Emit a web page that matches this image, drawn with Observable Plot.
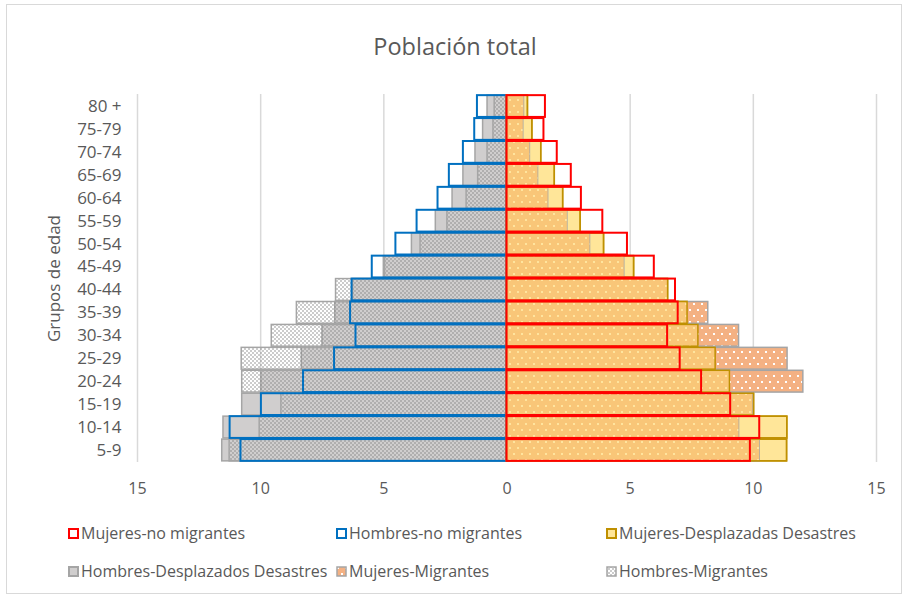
<!DOCTYPE html>
<html><head><meta charset="utf-8">
<script src="https://cdn.jsdelivr.net/npm/d3@7"></script>
<script src="https://cdn.jsdelivr.net/npm/@observablehq/plot@0.6"></script>
<style>
body{margin:0;background:#fff;font-family:"Open Sans",sans-serif;}
#frame{position:absolute;left:6px;top:4px;width:896px;height:590px;border:1px solid #D9D9D9;box-sizing:border-box}
#title{position:absolute;left:0;width:910px;top:31px;text-align:center;font-size:23.5px;color:#595959;line-height:30px}
#chart{position:absolute;left:0;top:80px}
.leg{position:absolute;font-size:16px;color:#595959;display:flex;align-items:center;white-space:nowrap;height:20px}
.leg svg{margin-right:2px}
</style></head><body>
<div id="frame"></div>
<div id="title">Población total</div>
<svg width="0" height="0" style="position:absolute">
<defs>
<pattern id="checker" width="4" height="4" patternUnits="userSpaceOnUse">
<rect x="0" y="0" width="2" height="2" fill="#7F7F7F" fill-opacity="0.4"/>
<rect x="2" y="2" width="2" height="2" fill="#7F7F7F" fill-opacity="0.4"/>
</pattern>
<pattern id="dotsSalmon" width="8" height="12" patternUnits="userSpaceOnUse">
<rect x="0" y="0" width="8" height="12" fill="#F4B183"/>
<rect x="1" y="1" width="2" height="2" fill="#FFFFFF"/>
<rect x="5" y="7" width="2" height="2" fill="#FFFFFF"/>
</pattern>
<pattern id="dotsOrange" width="8" height="12" patternUnits="userSpaceOnUse">
<rect x="0" y="0" width="8" height="12" fill="#F9C678"/>
<rect x="1" y="1" width="2" height="2" fill="#FFE49E"/>
<rect x="5" y="7" width="2" height="2" fill="#FFE49E"/>
</pattern>
</defs>
</svg>
<div id="chart"></div>
<div id="legend"></div>
<script>
// Age groups (bottom to top)
const ageGroups = ["5-9","10-14","15-19","20-24","25-29","30-34","35-39","40-44","45-49","50-54","55-59","60-64","65-69","70-74","75-79","80 +"];
// Men (%), plotted to the left
const hombresNoMigrantes = [10.80,11.24,9.97,8.26,7.00,6.13,6.35,6.29,5.47,4.51,3.65,2.80,2.34,1.77,1.31,1.20];
const hombresDesplazados = [11.56,11.51,10.75,9.97,8.33,7.49,6.97,6.25,5.00,3.86,2.89,2.21,1.77,1.28,0.97,0.79];
const hombresMigrantes   = [11.26,10.04,9.16,10.75,10.77,9.55,8.53,6.94,4.95,3.51,2.42,1.64,1.17,0.79,0.55,0.50];
// Women (%), plotted to the right
const mujeresNoMigrantes  = [9.88,10.26,9.08,7.90,7.03,6.52,6.95,6.84,5.98,4.89,3.89,3.02,2.61,2.04,1.50,1.56];
const mujeresDesplazadas  = [11.37,11.38,10.03,9.05,8.47,7.77,7.33,6.54,5.16,3.94,2.99,2.28,1.94,1.39,1.03,0.85];
const mujeresMigrantes    = [10.26,9.42,9.98,12.03,11.39,9.42,8.17,6.52,4.76,3.37,2.45,1.67,1.26,0.93,0.66,0.69];
const xTicks = [-15,-10,-5,0,5,10,15];
const legendLabels = ["Mujeres-no migrantes","Hombres-no migrantes","Mujeres-Desplazadas Desastres","Hombres-Desplazados Desastres","Mujeres-Migrantes","Hombres-Migrantes"];

const rows = ageGroups.map((age,i)=>({
  age,
  mNo: -hombresNoMigrantes[i], mDesp: -hombresDesplazados[i], mMig: -hombresMigrantes[i],
  fNo: mujeresNoMigrantes[i], fDesp: mujeresDesplazadas[i], fMig: mujeresMigrantes[i],
  fOver: Math.min(mujeresDesplazadas[i], mujeresMigrantes[i])
}));

const chart = Plot.plot({
  width: 905, height: 420,
  marginLeft: 137, marginRight: 29, marginTop: 14, marginBottom: 38,
  x: {domain: [-15, 15]},
  y: {domain: ageGroups.slice().reverse(), padding: 0.05, round: false},
  style: {fontFamily: "Open Sans", fontSize: "16px", color: "#595959", background: "transparent"},
  marks: [
    Plot.gridX(xTicks, {stroke: "#D9D9D9", strokeOpacity: 1, strokeWidth: 1.5}),
    // men
    Plot.barX(rows, {y: "age", x1: 0, x2: "mDesp", fill: "#D0CECE", stroke: "#A5A5A5", strokeWidth: 1.5}),
    Plot.barX(rows, {y: "age", x1: 0, x2: "mMig", fill: "url(#checker)", stroke: "#A5A5A5", strokeWidth: 1.5}),
    Plot.barX(rows, {y: "age", x1: 0, x2: "mNo", fill: "none", stroke: "#0070C0", strokeWidth: 2}),
    // women
    Plot.barX(rows, {y: "age", x1: 0, x2: "fDesp", fill: "#FFE699", stroke: "#BF9000", strokeWidth: 1.5}),
    Plot.barX(rows, {y: "age", x1: 0, x2: "fMig", fill: "url(#dotsSalmon)", stroke: "#A5A5A5", strokeWidth: 1.5}),
    Plot.barX(rows, {y: "age", x1: 0, x2: "fOver", fill: "url(#dotsOrange)"}),
    Plot.barX(rows, {y: "age", x1: 0, x2: "fDesp", fill: "none", stroke: "#BF9000", strokeWidth: 1.5}),
    Plot.barX(rows, {y: "age", x1: 0, x2: "fNo", fill: "none", stroke: "#FF0000", strokeWidth: 2}),
    Plot.axisX(xTicks, {tickSize: 0, tickPadding: 20, tickFormat: d => Math.abs(d), label: null}),
    Plot.axisY({tickSize: 0, tickPadding: 16, fontSize: 17, label: "Grupos de edad", labelAnchor: "center", labelArrow: "none", labelOffset: 90})
  ]
});
document.getElementById("chart").appendChild(chart);

// legend
const swatches = [
  {fill: "#FFFFFF", stroke: "#FF0000", sw: 2},
  {fill: "#FFFFFF", stroke: "#0070C0", sw: 2},
  {fill: "#FFE699", stroke: "#BF9000", sw: 2},
  {fill: "#D0CECE", stroke: "#A5A5A5", sw: 2},
  {fill: "url(#dotsSalmon)", stroke: "#A5A5A5", sw: 1.5},
  {fill: "url(#checker)", stroke: "#A5A5A5", sw: 1.5}
];
const legX = [68, 336, 606], legY = [533, 571];
const legend = document.getElementById("legend");
legendLabels.forEach((lab, i) => {
  const s = swatches[i];
  const div = document.createElement("div");
  div.className = "leg";
  div.style.left = legX[i % 3] + "px";
  div.style.top = (legY[Math.floor(i / 3)] - 10) + "px";
  div.innerHTML = `<svg width="11" height="11"><rect x="1" y="1" width="9" height="9" fill="${s.fill}" stroke="${s.stroke}" stroke-width="${s.sw}"/></svg><span>${lab}</span>`;
  legend.appendChild(div);
});
</script>
</body></html>
